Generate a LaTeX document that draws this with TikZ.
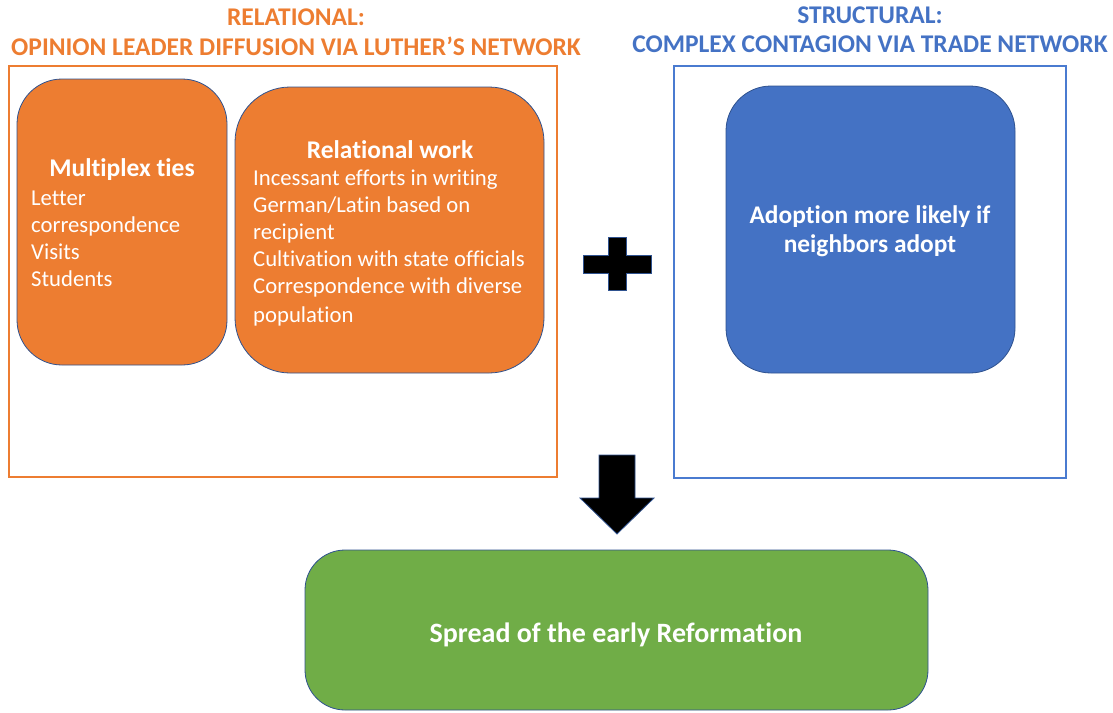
\documentclass[tikz,border=0pt]{standalone}
\usepackage{fontspec}
\setmainfont{Carlito}[Ligatures=NoCommon]
\definecolor{orng}{HTML}{ED7D31}
\definecolor{blu}{HTML}{4472C4}
\definecolor{bluframe}{HTML}{4A7BD0}
\definecolor{edge}{HTML}{2F528F}
\definecolor{grn}{HTML}{70AD47}
\tikzset{
  box/.style={draw=edge, line width=0.8pt},
  frame/.style={line width=2.5pt},
  title/.style={font=\fontsize{25.5}{30}\selectfont\bfseries, inner sep=0pt, anchor=base},
  head/.style={font=\fontsize{25.5}{29}\selectfont\bfseries, text=white, inner sep=0pt, anchor=base},
  body/.style={font=\fontsize{22.7}{27}\selectfont, text=white, inner sep=0pt, align=left, anchor=base west},
  shapefill/.style={fill=black, draw=edge, line width=0.8pt}
}
\begin{document}
\begin{tikzpicture}[x=1pt,y=-1pt]
\useasboundingbox (0,0) rectangle (1113,712);
% frames
\draw[frame, draw=orng] (9,66) rectangle (557,477);
\draw[frame, draw=bluframe] (674,66) rectangle (1066,478);
% titles
\node[title, text=orng] (t1) at (296,25.5) {RELATIONAL:};
\node[title, text=orng] (t2) at (296,55.5) {OPINION LEADER DIFFUSION VIA LUTHER’S NETWORK};
\node[title, text=blu] (t3) at (870,23.5) {STRUCTURAL:};
\node[title, text=blu] (t4) at (870,52.5) {COMPLEX CONTAGION VIA TRADE NETWORK};
% boxes
\draw[box, fill=orng, rounded corners=45pt] (17,79) rectangle (227,365);
\draw[box, fill=orng, rounded corners=55pt] (235,87) rectangle (544,373);
\draw[box, fill=blu, rounded corners=45pt] (726,86) rectangle (1015,373);
\draw[box, fill=grn, rounded corners=40pt] (305,550) rectangle (928,710);
% texts
\node[head] (mh) at (122,176) {Multiplex ties};
\node[body] (mb) at (31,286) {Letter\\correspondence\\Visits\\Students};
\node[head] (rh) at (390,158) {Relational work};
\node[body] (rb) at (253,322) {Incessant efforts in writing\\German/Latin based on\\recipient\\Cultivation with state officials\\Correspondence with diverse\\[2pt]population};
\node[head, align=center, font=\fontsize{25.4}{29}\selectfont\bfseries] (bt) at (870,252) {Adoption more likely if\\neighbors adopt};
\node[head, font=\fontsize{28}{32}\selectfont\bfseries] (gt) at (616,642) {Spread of the early Reformation};
% plus
\draw[shapefill] (608,237) -- (626,237) -- (626,255) -- (651,255) -- (651,273) -- (626,273) -- (626,290) -- (608,290) -- (608,273) -- (583,273) -- (583,255) -- (608,255) -- cycle;
% down arrow
\draw[shapefill] (599,455) -- (635,455) -- (635,498) -- (654,498) -- (617,534) -- (580,498) -- (599,498) -- cycle;
\end{tikzpicture}
\end{document}
